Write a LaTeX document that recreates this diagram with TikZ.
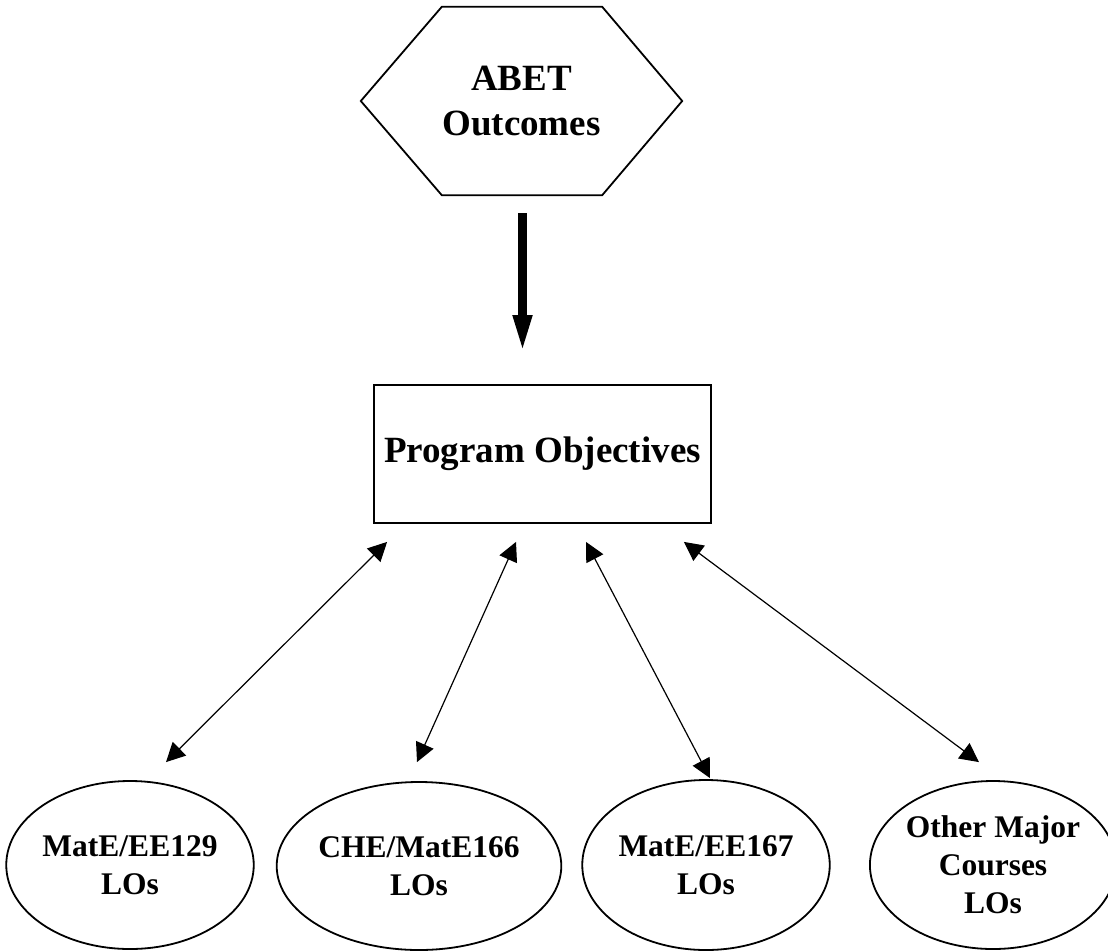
\documentclass[tikz,border=0pt]{standalone}
\usepackage{fontspec}
\setmainfont{Liberation Serif}
\usetikzlibrary{shapes.geometric,arrows.meta}
\begin{document}
\begin{tikzpicture}[x=1pt,y=-1pt,
  bigtext/.style={font=\bfseries\fontsize{37}{45}\selectfont, align=center},
  smalltext/.style={font=\bfseries\fontsize{31.5}{38}\selectfont, align=center},
  shapeline/.style={line width=1.8pt},
  lobox/.style={ellipse, draw, shapeline, inner sep=0pt, smalltext},
  dbl/.style={line width=1.2pt, {Triangle[length=19pt,width=19pt]}-{Triangle[length=19pt,width=19pt]}},
  bigarrow/.style={line width=9pt, -{Triangle[length=39pt,width=17pt]}}
]
\useasboundingbox (0,0) rectangle (1108,951);

% hexagon
\node[bigtext, minimum width=321pt, minimum height=188pt, inner sep=0pt] (abet) at (521.5,101) {ABET\\Outcomes};
\draw[shapeline, line join=miter] (abet.west) -- ([xshift=81pt]abet.north west) -- ([xshift=-80pt]abet.north east)
  -- (abet.east) -- ([xshift=-80pt]abet.south east) -- ([xshift=81pt]abet.south west) -- cycle;

% program objectives
\node[draw, shapeline, bigtext, minimum width=337pt, minimum height=138pt, inner sep=0pt] (prog) at (542.5,454) {Program Objectives};

% ellipses
\node[lobox, minimum width=236pt, minimum height=168pt] (e1) at (130,865) {MatE/EE129\\LOs};
\node[lobox, minimum width=232pt, minimum height=168pt] (e2) at (419,866) {CHE/MatE166\\LOs};
\node[lobox, minimum width=244pt, minimum height=170pt] (e3) at (706,865) {MatE/EE167\\LOs};
\node[lobox, minimum width=232pt, minimum height=168pt] (e4) at (993,865) {Other Major\\Courses\\LOs};

% thick arrow
\draw[bigarrow] ([xshift=1pt,yshift=-18pt]abet.south) -- ([xshift=1pt,yshift=30pt]abet.south |- prog.north);

% double arrows
\draw[dbl] ([xshift=14pt,yshift=-18pt]prog.south west) -- ([xshift=36pt,yshift=18pt]e1.north);
\draw[dbl] ([xshift=-26.5pt,yshift=-18pt]prog.south) -- ([xshift=-2pt,yshift=19pt]e2.north);
\draw[dbl] ([xshift=43.5pt,yshift=-18pt]prog.south) -- ([xshift=4pt,yshift=1pt]e3.north);
\draw[dbl] ([xshift=-28pt,yshift=-18pt]prog.south east) -- ([xshift=-14pt,yshift=18pt]e4.north);
\end{tikzpicture}
\end{document}
